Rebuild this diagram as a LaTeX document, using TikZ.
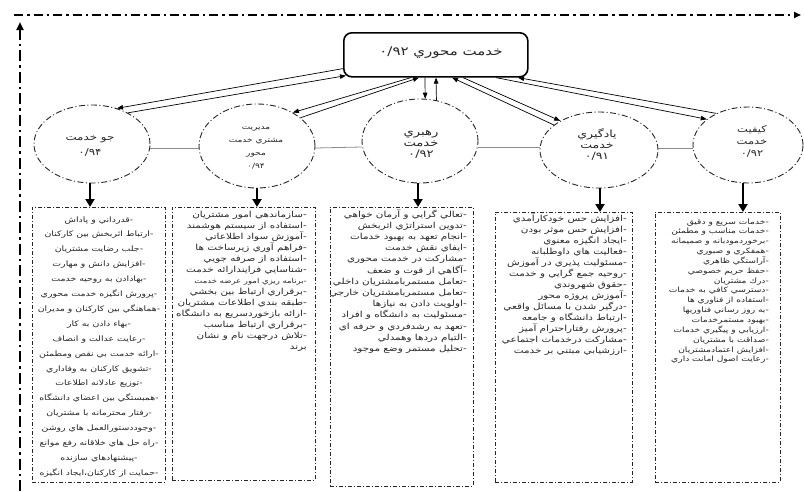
\documentclass[tikz,border=0pt]{standalone}
\usepackage{fontspec}
\TeXXeTstate=1
\newfontfamily\ar[Script=Arabic,FakeStretch=1.25]{DejaVu Sans}
\usetikzlibrary{shapes.geometric,arrows.meta}
\newcommand\dsh{-\kern0pt}
\begin{document}
\begin{tikzpicture}[x=1pt,y=-1pt,
 framev/.style={line width=2.8pt, dash pattern=on 11pt off 4pt on 2.5pt off 4pt},
 frameh/.style={line width=2.2pt, dash pattern=on 9pt off 4pt on 2.5pt off 4pt},
 topbox/.style={draw, line width=1.6pt, rounded corners=8pt, minimum width=184pt, minimum height=44pt, inner sep=0pt, anchor=north west},
 ell/.style={ellipse, draw=black!85, line width=0.9pt, dash pattern=on 6pt off 2.5pt on 1pt off 2.5pt, inner sep=0pt},
 lstbox/.style={draw=black!85, line width=0.8pt, dash pattern=on 4pt off 2pt on 1pt off 2pt, inner sep=0pt, anchor=north west},
 link/.style={draw=black!45, line width=0.8pt},
 tarrow/.style={line width=0.7pt, -{Triangle[length=6pt,width=4.5pt]}},
 darrow/.style={line width=2pt, -{Triangle[length=8pt,width=9pt]}},
 etext/.style={align=center, text=black!85, inner sep=0pt},
 ltxt/.style={font=\ar\fontsize{8.3}{9}\selectfont, inner sep=0pt, text=black!85},
 ltxts/.style={font=\ar\fontsize{7.3}{8}\selectfont, inner sep=0pt, text=black!85}
]
\useasboundingbox (0,0) rectangle (804,491);
\fill[white] (0,0) rectangle (804,491);

% frame
\coordinate (fvb) at (20,491);
\coordinate (fvt) at (20,22);
\coordinate (fhl) at (14,15);
\coordinate (fhr) at (801,15);
\draw[framev,-{Triangle[length=8pt,width=7pt]}] (fvb) -- (fvt);
\draw[frameh,-{Triangle[length=7pt,width=6pt]}] (fhl) -- (fhr);

% top box
\node[topbox] (top) at (343,32) {};
\node[font=\ar\fontsize{12}{13}\selectfont, text=black!85] (toptxt) at (441,53) {\beginR خدمت محوري  ۰/۹۲\endR};

% ellipses
\node[ell, minimum width=116pt, minimum height=78pt] (e1) at (92,144) {};
\node[ell, minimum width=116pt, minimum height=84pt] (e2) at (257,146) {};
\node[ell, minimum width=116pt, minimum height=84pt] (e3) at (420,141) {};
\node[ell, minimum width=118pt, minimum height=76pt] (e4) at (599,150) {};
\node[ell, minimum width=110pt, minimum height=76pt] (e5) at (748,145) {};

\node[etext, font=\ar\fontsize{9.5}{15}\selectfont] (t1) at (90,146) {\beginR جو خدمت\endR\\۰/۹۴};
\node[etext, font=\ar\fontsize{7.2}{13}\selectfont] (t2) at (256,148) {مديريت\\\beginR مشتري خدمت\endR\\محور\\۰/۹۴};
\node[etext, font=\ar\fontsize{10.5}{11}\selectfont] (t3) at (421,144) {رهبري\\خدمت\\۰/۹۲};
\node[etext, font=\ar\fontsize{10}{11}\selectfont] (t4) at (597,144) {يادگيري\\خدمت\\۰/۹۱};
\node[etext, font=\ar\fontsize{9.2}{12}\selectfont] (t5) at (752,141) {كيفيت\\خدمت\\۰/۹۲};

% links between ellipses
\draw[link] ([yshift=-4pt]e1.east) -- ([yshift=-2pt]e2.west);
\draw[link] ([yshift=-2pt]e2.east) -- ([yshift=-6pt]e3.west);
\draw[link] ([yshift=-6pt]e3.east) -- ([yshift=3pt]e4.west);
\draw[link] ([yshift=2pt]e4.east) -- ([yshift=-3pt]e5.west);

% arrows top <-> ellipses
\draw[tarrow] ([yshift=9pt]top.south west) -- (e1.55);
\draw[tarrow] (e1.41) -- ([xshift=3pt,yshift=2pt]top.south west);
\draw[tarrow] ([xshift=68pt]top.south west) -- (e2.43);
\draw[tarrow] (e2.33) -- ([xshift=76pt]top.south west);
\draw[tarrow] ([xshift=82pt]top.south west) -- (e3.83);
\draw[tarrow] (e3.68) -- ([xshift=93pt]top.south west);
\draw[tarrow] ([xshift=120pt]top.south west) -- (e4.143);
\draw[tarrow] (e4.151) -- ([xshift=109pt]top.south west);
\draw[tarrow] ([xshift=153pt]top.south west) -- (e5.148);
\draw[tarrow] (e5.135) -- ([xshift=175pt]top.south west);

% list boxes
\node[lstbox, minimum width=133pt, minimum height=275pt] (b1) at (32,207) {};
\node[lstbox, minimum width=143pt, minimum height=273pt] (b2) at (172,207) {};
\node[lstbox, minimum width=143pt, minimum height=279pt] (b3) at (330,207) {};
\node[lstbox, minimum width=137pt, minimum height=270pt] (b4) at (495,212) {};
\node[lstbox, minimum width=125pt, minimum height=270pt] (b5) at (655,212) {};

% down arrows
\draw[darrow] ([xshift=-2pt]e1.south) -- ([xshift=-2pt]e1.south |- b1.north);
\draw[darrow] (e2.south) -- (e2.south |- b2.north);
\draw[darrow] ([xshift=-2pt]e3.south) -- ([xshift=-2pt]e3.south |- b3.north);
\draw[darrow] ([xshift=1pt]e4.south) -- ([xshift=1pt]e4.south |- b4.north);
\draw[darrow] ([xshift=-5pt]e5.south) -- ([xshift=-5pt]e5.south |- b5.north);

% box texts
\foreach \t [count=\i] in {
\dsh قدرداني و پاداش,
\dsh ارتباط اثربخش بين كاركنان,
\dsh جلب رضايت مشتريان,
\dsh افزايش دانش و مهارت,
\dsh بهادادن به روحيه خدمت,
\dsh پرورش انگيزه خدمت محوري,
\dsh هماهنگي بين كاركنان و مديران,
\dsh بهاء دادن به كار,
\dsh رعايت عدالت و انصاف,
\dsh ارائه خدمت بي نقص ومطمئن,
\dsh تشويق كاركنان به وفاداري,
\dsh توزيع عادلانه اطلاعات,
\dsh همبستگي بين اعضاي دانشگاه,
\dsh رفتار محترمانه با مشتريان,
\dsh وجوددستورالعمل هاي روشن,
\dsh راه حل هاي خلاقانه رفع موانع,
\dsh پيشنهادهاي سازنده,
\dsh حمايت از كاركنان،ايجاد انگيزه}
 \node[ltxt, font=\ar\fontsize{7.5}{9}\selectfont, anchor=base] (b1l\i) at (99,{222+14.9*(\i-1)}) {\beginR\t\endR};

\foreach \t [count=\i] in {
\dsh سازماندهي امور مشتريان,
\dsh استفاده از سيستم هوشمند,
\dsh آموزش سواد اطلاعاتي,
\dsh فراهم آوري زيرساخت ها,
\dsh استفاده از صرفه جويي,
\dsh شناسايي فرايندارائه خدمت,
{\fontsize{6.8}{6}\selectfont\dsh برنامه ريزي امور عرضه خدمت},
\dsh برقراري ارتباط بين بخشي,
\dsh طبقه بندي اطلاعات مشتريان,
\dsh ارائه بازخوردسريع به دانشگاه,
\dsh برقراري ارتباط مناسب,
\dsh تلاش درجهت نام و نشان,
برند}
 \node[ltxt, anchor=base east] (b2l\i) at (307,{217+11*(\i-1)}) {\beginR\t\endR};

\foreach \t [count=\i] in {
\dsh تعالي گرايي و آرمان خواهي,
\dsh تدوين استراتژي اثربخش,
\dsh انجام تعهد به بهبود خدمات,
\dsh ايفاي نقش خدمت,
\dsh مشاركت در خدمت محوري,
\dsh آگاهي از قوت و ضعف,
\dsh تعامل مستمربامشتريان داخلي,
\dsh تعامل مستمربامشتريان خارجي,
\dsh اولويت دادن به نيازها,
\dsh مسئوليت به دانشگاه و افراد,
\dsh تعهد به رشدفردي و حرفه اي,
\dsh التيام دردها وهمدلي,
\dsh تحليل مستمر وضع موجود}
 \node[ltxt, anchor=base east] (b3l\i) at (467,{217+11.2*(\i-1)}) {\beginR\t\endR};

\foreach \t [count=\i] in {
\dsh افزايش حس خودكارآمدي,
\dsh افزايش حس موثر بودن,
\dsh ايجاد انگيزه معنوي,
\dsh فعاليت هاي داوطلبانه,
\dsh مسئوليت پذيري در آموزش,
\dsh روحيه جمع گرايي و خدمت,
\dsh حقوق شهروندي,
\dsh آموزش پروژه محور,
\dsh درگير شدن با مسائل واقعي,
\dsh ارتباط دانشگاه و جامعه,
\dsh پرورش رفتاراحترام آميز,
\dsh مشاركت درخدمات اجتماعي,
\dsh ارزشيابي مبتني بر خدمت}
 \node[ltxt, font=\ar\fontsize{8.3}{9}\selectfont, anchor=base east] (b4l\i) at (627,{221+11*(\i-1)}) {\beginR\t\endR};

\foreach \t [count=\i] in {
\dsh خدمات سريع و دقيق,
\dsh خدمات مناسب و مطمئن,
\dsh برخوردمودبانه و صميمانه,
\dsh همفكري و صبوري,
\dsh آراستگي ظاهري,
\dsh حفظ حريم خصوصي,
\dsh درك مشتريان,
\dsh دسترسي كافي به خدمات,
\dsh استفاده از فناوري ها,
\dsh به روز رساني فناوريها,
\dsh بهبود مستمرخدمات,
\dsh ارزيابي و پيگيري خدمات,
\dsh صداقت با مشتريان,
\dsh افزايش اعتمادمشتريان,
\dsh رعايت اصول امانت داري}
 \node[ltxts, anchor=base east] (b5l\i) at (769,{224+9.85*(\i-1)}) {\beginR\t\endR};
\end{tikzpicture}
\end{document}
